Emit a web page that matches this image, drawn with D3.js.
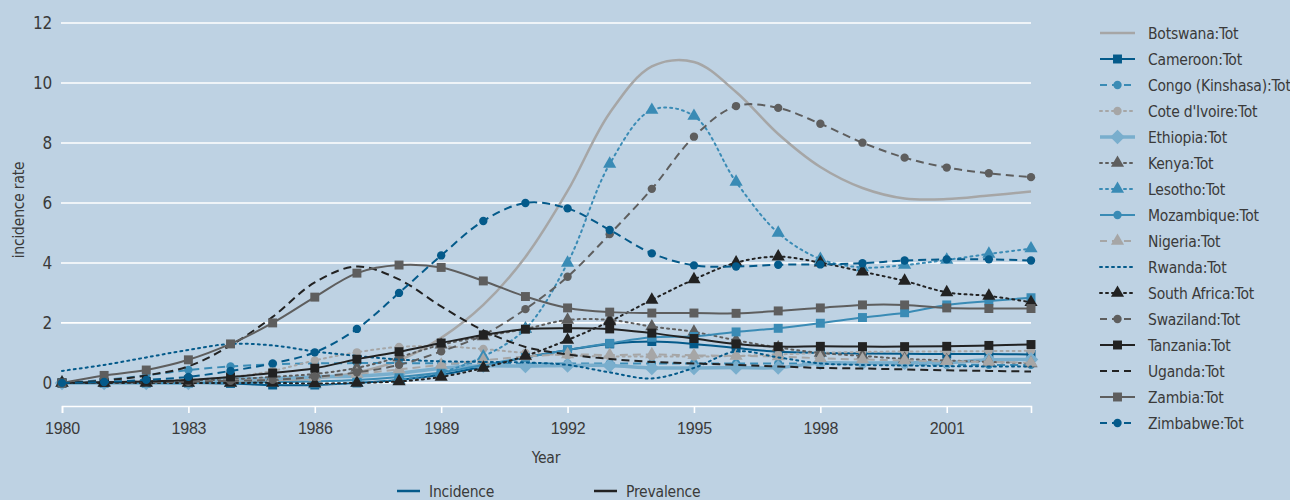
<!DOCTYPE html>
<html>
<head>
<meta charset="utf-8">
<script src="https://cdn.jsdelivr.net/npm/d3@7"></script>
<style>
  body { margin: 0; background: #bed2e3; }
  svg { display: block; font-family: "Liberation Sans Narrow", "DejaVu Sans Condensed", "Arial Narrow", sans-serif; }
  text { letter-spacing: -0.2px; }
</style>
</head>
<body>
<div id="chart"></div>
<script>
const WIDTH = 1290, HEIGHT = 500;

const years = d3.range(1980, 2004);
const yTicks = [0, 2, 4, 6, 8, 10, 12];
const xTicks = [1980, 1983, 1986, 1989, 1992, 1995, 1998, 2001];

const countries = ["Botswana", "Cameroon", "Congo (Kinshasa)", "Cote d'Ivoire", "Ethiopia", "Kenya",
  "Lesotho", "Mozambique", "Nigeria", "Rwanda", "South Africa", "Swaziland", "Tanzania",
  "Uganda", "Zambia", "Zimbabwe"];

// values per year 1980..2003
const botswana   = [0, 0.01, 0.02, 0.03, 0.05, 0.08, 0.15, 0.35, 0.75, 1.5, 2.6, 4.2, 6.4, 9.0, 10.55, 10.7, 9.7, 8.3, 7.2, 6.5, 6.15, 6.13, 6.25, 6.38];
const cameroon   = [0, 0, 0, 0, -0.02, -0.07, -0.07, 0, 0.1, 0.27, 0.55, 0.85, 1.1, 1.3, 1.38, 1.3, 1.16, 1.04, 1.0, 0.98, 0.97, 0.96, 0.96, 0.95];
const congo      = [0, 0.1, 0.25, 0.43, 0.55, 0.62, 0.65, 0.66, 0.66, 0.65, 0.65, 0.65, 0.65, 0.65, 0.65, 0.65, 0.65, 0.65, 0.64, 0.63, 0.62, 0.61, 0.6, 0.6];
const coteIvoire = [0, 0.02, 0.05, 0.1, 0.2, 0.4, 0.75, 1.02, 1.2, 1.22, 1.13, 1.0, 0.92, 0.88, 0.88, 0.88, 0.9, 0.95, 1.0, 1.03, 1.05, 1.05, 1.06, 1.07];
const ethiopia   = [0, 0, 0, 0, 0.12, 0.15, 0.2, 0.23, 0.32, 0.49, 0.57, 0.56, 0.58, 0.58, 0.5, 0.5, 0.51, 0.51, 0.66, 0.66, 0.67, 0.68, 0.77, 0.78];
const kenya      = [0, 0.02, 0.05, 0.08, 0.12, 0.2, 0.3, 0.5, 0.86, 1.27, 1.55, 1.8, 2.1, 2.1, 1.88, 1.7, 1.42, 1.18, 1.0, 0.9, 0.8, 0.75, 0.7, 0.65];
const lesotho    = [0, 0, 0, 0, 0, 0, -0.05, 0, 0.1, 0.35, 0.88, 1.8, 4.0, 7.3, 9.1, 8.9, 6.7, 5.0, 4.13, 3.85, 3.93, 4.1, 4.3, 4.48];
const mozambique = [0, 0, 0, 0, 0, 0.02, 0.05, 0.1, 0.2, 0.35, 0.6, 0.85, 1.1, 1.32, 1.52, 1.55, 1.7, 1.82, 1.99, 2.18, 2.34, 2.6, 2.73, 2.84];
const nigeria    = [0, 0.01, 0.03, 0.05, 0.08, 0.12, 0.18, 0.3, 0.45, 0.6, 0.75, 0.88, 0.95, 0.93, 0.95, 0.92, 0.9, 0.88, 0.82, 0.78, 0.75, 0.72, 0.7, 0.67];
const rwanda     = [0.4, 0.6, 0.85, 1.1, 1.3, 1.25, 1.05, 0.9, 0.78, 0.72, 0.7, 0.68, 0.6, 0.35, 0.15, 0.5, 1.05, 0.85, 0.65, 0.6, 0.58, 0.56, 0.55, 0.55];
const southAfrica= [0, 0, 0, 0, 0, 0, -0.02, 0, 0.05, 0.2, 0.5, 0.9, 1.43, 2.05, 2.77, 3.45, 4.01, 4.21, 4.01, 3.71, 3.4, 3.02, 2.9, 2.69];
const swaziland  = [0, 0.01, 0.02, 0.04, 0.07, 0.1, 0.2, 0.35, 0.6, 1.05, 1.6, 2.46, 3.54, 4.96, 6.47, 8.21, 9.23, 9.17, 8.64, 8.01, 7.51, 7.18, 6.99, 6.86];
const tanzania   = [0, 0.02, 0.05, 0.1, 0.2, 0.33, 0.49, 0.79, 1.04, 1.33, 1.6, 1.79, 1.82, 1.8, 1.66, 1.48, 1.3, 1.21, 1.22, 1.21, 1.21, 1.22, 1.25, 1.28];
const uganda     = [0, 0.08, 0.25, 0.55, 1.25, 2.2, 3.35, 3.88, 3.45, 2.55, 1.75, 1.2, 0.95, 0.8, 0.7, 0.65, 0.6, 0.55, 0.5, 0.48, 0.45, 0.42, 0.4, 0.38];
const zambia     = [0, 0.25, 0.43, 0.77, 1.3, 2.0, 2.86, 3.66, 3.93, 3.85, 3.4, 2.88, 2.5, 2.36, 2.33, 2.33, 2.32, 2.4, 2.5, 2.6, 2.6, 2.5, 2.48, 2.48];
const zimbabwe   = [0, 0.03, 0.1, 0.2, 0.4, 0.65, 1.02, 1.8, 3.0, 4.25, 5.4, 6.0, 5.82, 5.1, 4.32, 3.92, 3.88, 3.94, 3.95, 3.99, 4.08, 4.12, 4.12, 4.08];

const seriesValues = [botswana, cameroon, congo, coteIvoire, ethiopia, kenya, lesotho, mozambique,
  nigeria, rwanda, southAfrica, swaziland, tanzania, uganda, zambia, zimbabwe];

const bottomLegend = ["Incidence", "Prevalence"];

// styles
const DARK_BLUE = "#045a8a", MID_BLUE = "#3a8bb5", LIGHT_BLUE = "#79aecd",
      LIGHT_GRAY = "#a6a6a6", DARK_GRAY = "#5e5e5e", BLACK = "#222222";
const DASH = "8,5", DOT = "2,4";
const FONT = "15.5px", TEXT_COLOR = "#3a3a3a";
const styles = [
  { color: LIGHT_GRAY, dash: null, marker: null, width: 2.5 },
  { color: DARK_BLUE,  dash: null, marker: "square" },
  { color: MID_BLUE,   dash: DASH, marker: "circle" },
  { color: LIGHT_GRAY, dash: DOT,  marker: "circle" },
  { color: LIGHT_BLUE, dash: null, marker: "diamond", width: 3.5 },
  { color: DARK_GRAY,  dash: DOT,  marker: "triangle" },
  { color: MID_BLUE,   dash: DOT,  marker: "triangle" },
  { color: MID_BLUE,   dash: null, marker: "square", legendMarker: "circle" },
  { color: LIGHT_GRAY, dash: DASH, marker: "triangle" },
  { color: DARK_BLUE,  dash: DOT,  marker: null },
  { color: BLACK,      dash: DOT,  marker: "triangle" },
  { color: DARK_GRAY,  dash: DASH, marker: "circle" },
  { color: BLACK,      dash: null, marker: "square" },
  { color: BLACK,      dash: DASH, marker: null },
  { color: DARK_GRAY,  dash: null, marker: "square" },
  { color: DARK_BLUE,  dash: DASH, marker: "circle" }
];

// [symbol, area, rotation]
const symbolTypes = {
  square: [d3.symbolSquare, 80, 0],
  circle: [d3.symbolCircle, 55, 0],
  triangle: [d3.symbolTriangle, 75, 0],
  diamond: [d3.symbolSquare, 105, 45]
};

const svg = d3.select("#chart").append("svg")
  .attr("width", WIDTH).attr("height", HEIGHT);

const x = d3.scaleLinear().domain([1980, 2003]).range([62, 1031]);
const y = d3.scaleLinear().domain([-0.77, 12]).range([406, 23]);

// gridlines
svg.append("g").selectAll("line")
  .data(yTicks)
  .join("line")
  .attr("x1", x(1980) - 1).attr("x2", x(2003))
  .attr("y1", d => y(d)).attr("y2", d => y(d))
  .attr("stroke", "#ffffff").attr("stroke-width", 1.6);

// y labels
svg.append("g").selectAll("text")
  .data(yTicks)
  .join("text")
  .attr("x", 52).attr("y", d => y(d) + 6)
  .attr("text-anchor", "end")
  .style("font-size", "17px").style("fill", TEXT_COLOR)
  .text(d => d);

// x axis
const xAxis = svg.append("g")
  .attr("transform", `translate(0,${y(-0.77)})`)
  .call(d3.axisBottom(x).tickValues(xTicks).tickFormat(d3.format("d")).tickSize(7).tickPadding(10));
xAxis.select(".domain").attr("stroke", "#ffffff").attr("stroke-width", 1.6);
xAxis.selectAll(".tick line").attr("stroke", "#ffffff").attr("stroke-width", 1.6);
xAxis.selectAll(".tick text")
  .style("font-size", "16px").style("fill", TEXT_COLOR)
  .style("font-family", "inherit");

svg.append("text")
  .attr("x", 546).attr("y", 463)
  .attr("text-anchor", "middle")
  .style("font-size", FONT).style("fill", TEXT_COLOR)
  .text("Year");

svg.append("text")
  .attr("transform", "translate(24,210) rotate(-90)")
  .attr("text-anchor", "middle")
  .style("font-size", FONT).style("fill", TEXT_COLOR)
  .text("incidence rate");

// lines
const line = d3.line()
  .x((d, i) => x(years[i]))
  .y(d => y(d))
  .curve(d3.curveCatmullRom.alpha(0.5));

const plot = svg.append("g");
seriesValues.forEach((vals, k) => {
  const s = styles[k];
  plot.append("path")
    .datum(vals)
    .attr("d", line)
    .attr("fill", "none")
    .attr("stroke", s.color)
    .attr("stroke-width", s.width || 2)
    .attr("stroke-dasharray", s.dash)
    .attr("stroke-linecap", s.dash === DOT ? "round" : "butt");
  if (s.marker) {
    const [type, size, rot] = symbolTypes[s.marker];
    plot.append("g").selectAll("path")
      .data(vals)
      .join("path")
      .attr("transform", (d, i) => `translate(${x(years[i])},${y(d)}) rotate(${rot})`)
      .attr("d", d3.symbol().type(type).size(size))
      .attr("fill", s.color);
  }
});

// right legend
const legend = svg.append("g").attr("transform", "translate(1100,33)");
countries.forEach((name, k) => {
  const s = styles[k];
  const g = legend.append("g").attr("transform", `translate(0,${k * 26})`);
  g.append("line")
    .attr("x1", 0).attr("x2", 35).attr("y1", 0).attr("y2", 0)
    .attr("stroke", s.color)
    .attr("stroke-width", s.width || 2)
    .attr("stroke-dasharray", s.dash === DASH ? "7,5" : s.dash)
    .attr("stroke-linecap", s.dash === DOT ? "round" : "butt");
  const m = s.legendMarker || s.marker;
  if (m) {
    const [type, size, rot] = symbolTypes[m];
    g.append("path")
      .attr("transform", `translate(17.5,0) rotate(${rot})`)
      .attr("d", d3.symbol().type(type).size(size))
      .attr("fill", s.color);
  }
  g.append("text")
    .attr("x", 48).attr("y", 6)
    .style("font-size", FONT).style("fill", TEXT_COLOR)
    .text(name + ":Tot");
});

// bottom legend
const bl = svg.append("g").attr("transform", "translate(397,491)");
[DARK_BLUE, BLACK].forEach((c, k) => {
  const g = bl.append("g").attr("transform", `translate(${k * 197},0)`);
  g.append("line").attr("x1", 0).attr("x2", 23).attr("stroke", c).attr("stroke-width", 2.5);
  g.append("text").attr("x", 32).attr("y", 6)
    .style("font-size", FONT).style("fill", TEXT_COLOR)
    .text(bottomLegend[k]);
});
</script>
</body>
</html>
